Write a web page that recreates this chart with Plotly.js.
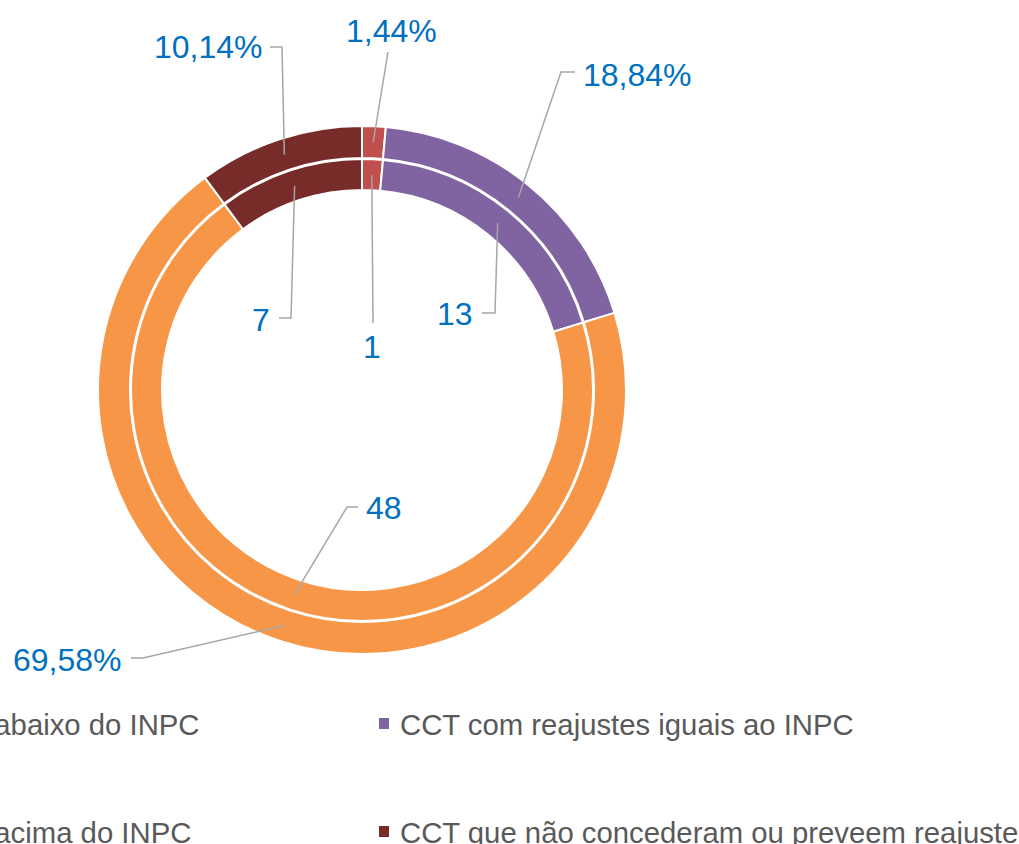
<!DOCTYPE html>
<html>
<head>
<meta charset="utf-8">
<script src="https://cdn.plot.ly/plotly-3.0.1.min.js"></script>
<style>
  html, body { margin: 0; padding: 0; background: #fff; }
  #chart { width: 1019px; height: 844px; }
</style>
</head>
<body>
<div id="chart"></div>
<script>
// === Data ===
const categories = [
  'CCT com reajustes abaixo do INPC',
  'CCT com reajustes iguais ao INPC',
  'CCT com reajustes acima do INPC',
  'CCT que não concederam ou preveem reajuste'
];
const countValues = [1, 13, 48, 7];            // anel interno
const percentValues = [1.44, 18.84, 69.58, 10.14]; // anel externo
const sliceColors = ['#C0504D', '#8064A2', '#F79646', '#772C2A'];

// === Helper: pixel -> paper ===
const W = 1019, H = 844;
const cx = 362, cy = 390;
const fx = p => p / W;
const fy = p => 1 - p / H;

function ringDomain(r) {
  return { x: [fx(cx - r), fx(cx + r)], y: [fy(cy + r), fy(cy - r)] };
}

// ponto no meio da fatia, no raio r
function sliceMid(values, i, r) {
  const total = values.reduce((a, b) => a + b, 0);
  const before = values.slice(0, i).reduce((a, b) => a + b, 0);
  const ang = (before + values[i] / 2) / total * 2 * Math.PI;
  return [cx + r * Math.sin(ang), cy - r * Math.cos(ang)];
}

const fmtPct = v => v.toFixed(2).replace('.', ',') + '%';

// posicoes dos rotulos (px) e cotovelos das linhas
const outerLabelPos = [
  { tx: 391, ty: 31, anchor: 'center', pts: [[388, 52]] },
  { tx: 581, ty: 75, anchor: 'left', pts: [[561, 72], [575, 72]] },
  { tx: 124, ty: 660, anchor: 'right', pts: [[143, 658], [131, 658]] },
  { tx: 265, ty: 47, anchor: 'right', pts: [[282, 47], [270, 47]] }
];
const innerLabelPos = [
  { tx: 372, ty: 347, anchor: 'center', pts: [[373, 323]] },
  { tx: 475, ty: 314, anchor: 'right', pts: [[495, 313], [482, 313]] },
  { tx: 364, ty: 508, anchor: 'left', pts: [[347, 507], [358, 507]] },
  { tx: 272, ty: 320, anchor: 'right', pts: [[291, 318], [279, 318]] }
];

const outerR = 264, innerR = 231;

const outerTrace = {
  type: 'pie',
  values: percentValues,
  labels: categories,
  sort: false,
  direction: 'clockwise',
  rotation: 0,
  hole: 232 / outerR,
  domain: ringDomain(outerR),
  marker: { colors: sliceColors, line: { color: '#FFFFFF', width: 2 } },
  textinfo: 'none',
  hoverinfo: 'label+value'
};

const innerTrace = {
  type: 'pie',
  values: countValues,
  labels: categories,
  sort: false,
  direction: 'clockwise',
  rotation: 0,
  hole: 200 / innerR,
  domain: ringDomain(innerR),
  marker: { colors: sliceColors, line: { color: '#FFFFFF', width: 2 } },
  textinfo: 'none',
  hoverinfo: 'label+value'
};

const labelFont = { family: 'Liberation Sans, Arial, sans-serif', size: 32, color: '#0070C0' };
const legendFont = { family: 'Liberation Sans, Arial, sans-serif', size: 29.3, color: '#595959' };

const annotations = [];
const shapes = [];

function addLabels(values, texts, positions, r) {
  values.forEach((v, i) => {
    const pos = positions[i];
    const a = sliceMid(values, i, r);
    const pts = [a].concat(pos.pts);
    const d = pts.map((p, k) => (k === 0 ? 'M ' : 'L ') + fx(p[0]) + ',' + fy(p[1])).join(' ');
    shapes.push({
      type: 'path', xref: 'paper', yref: 'paper', path: d,
      line: { color: '#A6A6A6', width: 1.5 }
    });
    annotations.push({
      xref: 'paper', yref: 'paper', x: fx(pos.tx), y: fy(pos.ty),
      xanchor: pos.anchor, yanchor: 'middle',
      text: texts[i], showarrow: false, font: labelFont
    });
  });
}

addLabels(percentValues, percentValues.map(fmtPct), outerLabelPos, 248);
addLabels(countValues, countValues.map(String), innerLabelPos, 215);

// === Legenda (cortada nas bordas, como no original) ===
const legendCols = [-266, 398];
const legendRows = [724, 832];
categories.forEach((name, i) => {
  const col = i % 2, row = Math.floor(i / 2);
  const x0 = legendCols[col], y0 = legendRows[row];
  shapes.push({
    type: 'rect', xref: 'paper', yref: 'paper',
    x0: fx(x0 - 19), x1: fx(x0 - 9), y0: fy(y0 + 5), y1: fy(y0 - 6),
    fillcolor: sliceColors[i], line: { width: 0 }
  });
  annotations.push({
    xref: 'paper', yref: 'paper', x: fx(x0), y: fy(y0),
    xanchor: 'left', yanchor: 'middle',
    text: name, showarrow: false, font: legendFont
  });
});

const layout = {
  width: W,
  height: H,
  margin: { t: 0, b: 0, l: 0, r: 0 },
  paper_bgcolor: '#FFFFFF',
  showlegend: false,
  annotations: annotations,
  shapes: shapes
};

Plotly.newPlot('chart', [outerTrace, innerTrace], layout, { displayModeBar: false, staticPlot: true });
</script>
</body>
</html>
